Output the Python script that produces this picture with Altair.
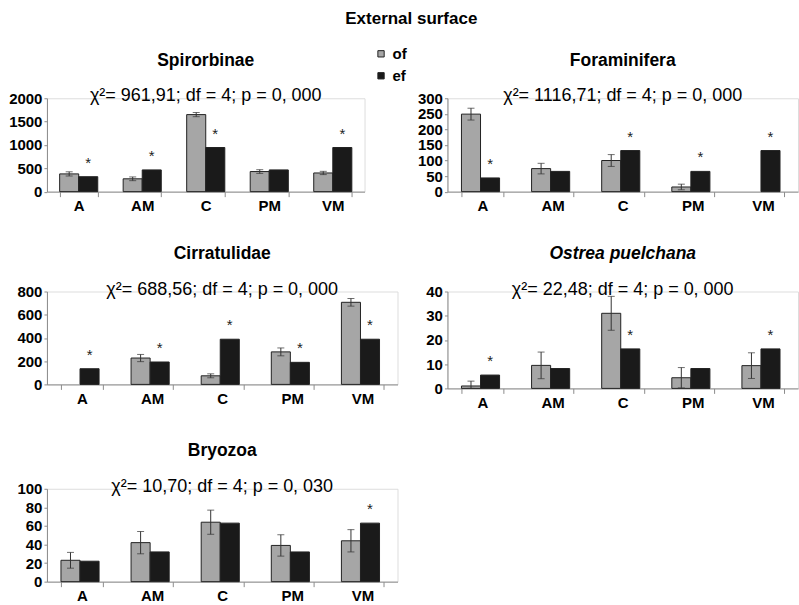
import altair as alt
import pandas as pd

FONT = "Liberation Sans"
GRAY = "#a6a6a6"
BLACK = "#1a1a1a"
AXIS = "#8c8c8c"

categories = ["A", "AM", "C", "PM", "VM"]
series = ["of", "ef"]

spiro_of = [380, 275, 1650, 430, 400]
spiro_err = [45, 40, 45, 40, 35]
spiro_ef = [320, 465, 945, 465, 945]
spiro_star = [1, 1, 1, 0, 1]

fora_of = [249, 74, 100, 15, 0]
fora_err = [19, 17, 19, 9, 0]
fora_ef = [44, 65, 132, 65, 132]
fora_star = [1, 0, 1, 1, 1]

cirra_of = [0, 227, 74, 280, 707]
cirra_err = [0, 31, 17, 34, 33]
cirra_ef = [135, 193, 389, 190, 389]
cirra_star = [1, 1, 1, 1, 1]

ostrea_of = [1, 9.5, 31, 4.4, 9.4]
ostrea_err = [2, 5.5, 7, 4.2, 5.3]
ostrea_ef = [5.5, 8.2, 16.3, 8.2, 16.3]
ostrea_star = [1, 0, 1, 0, 1]

bryo_of = [23, 42, 64, 39, 44]
bryo_err = [8.5, 12, 13, 11.5, 12]
bryo_ef = [22, 32, 63, 32, 63]
bryo_star = [0, 0, 0, 0, 1]

LEGEND = alt.Legend(title=None, orient="none", legendX=327, legendY=-52,
                    symbolType="square", symbolSize=40, symbolStrokeColor="#222",
                    symbolStrokeWidth=1, labelFont=FONT, labelFontSize=15,
                    labelFontWeight="bold", labelColor="black", rowPadding=6,
                    padding=0, symbolOpacity=1)


def panel(name, stat, of, err, ef, star, ymax, ystep, width, height, italic=False):
    rows = []
    for c, o, e, f, s in zip(categories, of, err, ef, star):
        rows.append(dict(cat=c, series="of", value=o, lo=max(0, o - e), hi=o + e, star=0))
        rows.append(dict(cat=c, series="ef", value=f, lo=f, hi=f, star=s))
    df = pd.DataFrame(rows)
    base = alt.Chart(df)

    x = alt.X("cat:N", sort=categories,
              scale=alt.Scale(paddingInner=0.4, paddingOuter=0.2),
              axis=alt.Axis(title=None, labelAngle=0, tickBand="extent",
                            domainColor=AXIS, tickColor=AXIS, tickSize=5,
                            labelFont=FONT, labelFontSize=15, labelFontWeight="bold",
                            labelColor="black", labelPadding=2))
    xo = alt.XOffset("series:N", sort=series, scale=alt.Scale(paddingInner=0, paddingOuter=0))
    yscale = alt.Scale(domain=[0, ymax], nice=False)
    yaxis = alt.Axis(title=None, grid=False, values=list(range(0, ymax + 1, ystep)),
                     format="d", domainColor=AXIS, tickColor=AXIS, tickSize=3,
                     labelPadding=2, labelFont=FONT, labelFontSize=15,
                     labelFontWeight="bold", labelColor="black")

    color = alt.Color("series:N", sort=series, legend=LEGEND,
                      scale=alt.Scale(domain=series, range=[GRAY, BLACK]))

    bars = base.transform_filter("datum.value > 0").mark_bar(
        stroke="#222", strokeWidth=1).encode(
        x=x, xOffset=xo, y=alt.Y("value:Q", scale=yscale, axis=yaxis), color=color)

    ebase = base.transform_filter("datum.series == 'of' && datum.value > 0")
    erule = ebase.mark_rule(color="#333", strokeWidth=1).encode(
        x=x, xOffset=xo, y=alt.Y("lo:Q", scale=yscale, axis=yaxis), y2="hi:Q")
    cap_lo = ebase.mark_tick(color="#333", size=7, thickness=1, orient="horizontal").encode(
        x=x, xOffset=xo, y=alt.Y("lo:Q", scale=yscale, axis=yaxis))
    cap_hi = ebase.mark_tick(color="#333", size=7, thickness=1, orient="horizontal").encode(
        x=x, xOffset=xo, y=alt.Y("hi:Q", scale=yscale, axis=yaxis))

    stars = base.transform_filter("datum.star == 1").mark_text(
        text="*", font=FONT, fontSize=15, color="#222", baseline="middle", dy=-14).encode(
        x=x, xOffset=xo, y=alt.Y("value:Q", scale=yscale, axis=yaxis))

    title = alt.TitleParams(
        text=name, subtitle=stat, font=FONT, fontSize=17.5, fontWeight="bold",
        fontStyle="italic" if italic else "normal",
        subtitleFont=FONT, subtitleFontSize=18, subtitleColor="black",
        color="black", anchor="middle", frame="group", offset=-14, subtitlePadding=18)

    return alt.layer(bars, erule, cap_lo, cap_hi, stars).properties(
        width=width, height=height, title=title)


p1 = panel("Spirorbinae", "χ²= 961,91; df = 4; p = 0, 000",
           spiro_of, spiro_err, spiro_ef, spiro_star, 2000, 500, 318, 93.5)
p2 = panel("Foraminifera", "χ²= 1116,71; df = 4; p = 0, 000",
           fora_of, fora_err, fora_ef, fora_star, 300, 50, 351, 93.5)
p3 = panel("Cirratulidae", "χ²= 688,56; df = 4; p = 0, 000",
           cirra_of, cirra_err, cirra_ef, cirra_star, 800, 200, 351, 93)
p4 = panel("Ostrea puelchana", "χ²= 22,48; df = 4; p = 0, 000",
           ostrea_of, ostrea_err, ostrea_ef, ostrea_star, 40, 10, 351, 97, italic=True)
p5 = panel("Bryozoa", "χ²= 10,70; df = 4; p = 0, 030",
           bryo_of, bryo_err, bryo_ef, bryo_star, 100, 20, 351, 93)

chart = alt.ConcatChart(
    concat=[p1, p2, p3, p4, p5], columns=2, align="each",
    spacing={"row": 30.5, "column": 18},
    title=alt.TitleParams("External surface", font=FONT, fontSize=17, fontWeight="bold",
                          color="black", anchor="middle", offset=18.5, dx=8),
    padding={"left": 8, "top": 9, "right": 0, "bottom": 0},
).configure_view(strokeWidth=0).configure(background="white")

chart.save("out.html", embed_options={"renderer": "svg", "actions": False})
